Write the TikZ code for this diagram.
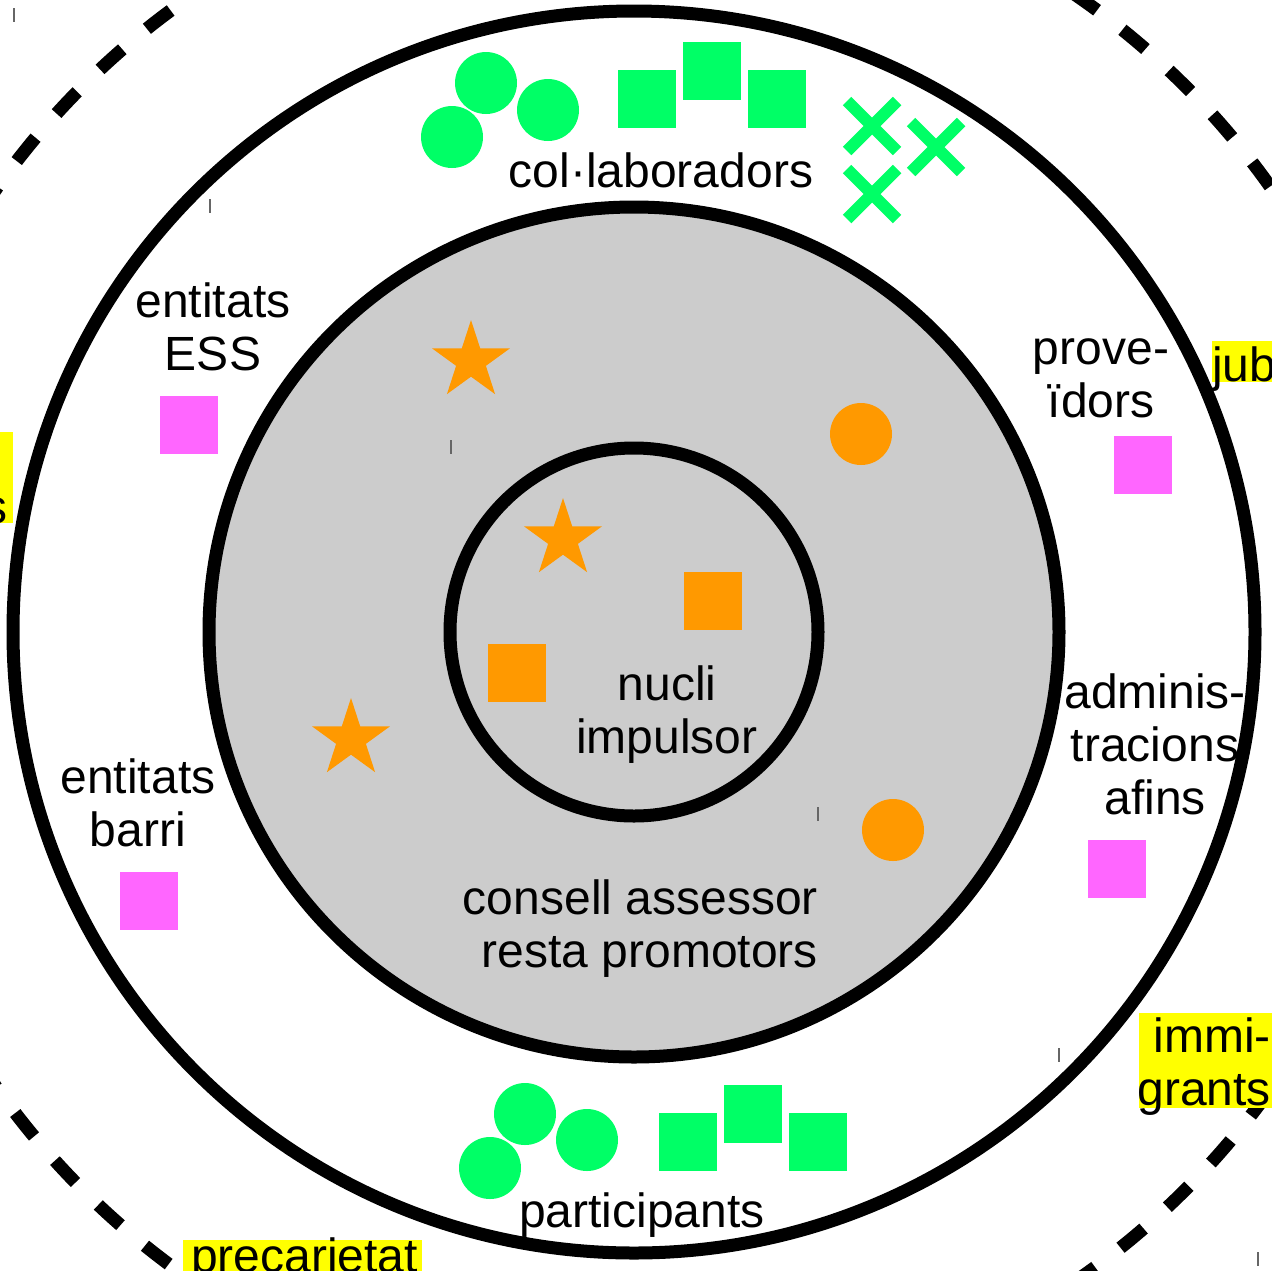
\documentclass[tikz,border=0pt]{standalone}
\usepackage{fontspec}
\setmainfont{Liberation Sans}
\usetikzlibrary{shapes.geometric}
\definecolor{ringgray}{RGB}{204,204,204}
\definecolor{mkgreen}{RGB}{0,255,102}
\definecolor{mkorange}{RGB}{255,153,0}
\definecolor{mkpink}{RGB}{255,102,255}
\definecolor{mkyellow}{RGB}{255,255,0}
\definecolor{tickgray}{RGB}{102,102,102}

\begin{document}
\begin{tikzpicture}[x=1pt,y=-1pt,
  ring/.style={line width=13pt},
  lbl/.style={font=\fontsize{48}{53}\selectfont, inner sep=0pt, align=center},
  blob/.style={circle, fill=#1, minimum size=62pt, inner sep=0pt},
  tile/.style={rectangle, fill=#1, minimum size=58pt, inner sep=0pt},
  starmark/.style={star, star points=5, star point ratio=2.618, fill=mkorange, minimum size=82pt, inner sep=0pt},
  xstroke/.style={draw=mkgreen, line width=12pt},
  cornertick/.style={draw=tickgray, line width=1.5pt}]
\useasboundingbox (0,0) rectangle (1272,1270);
\fill[white] (0,0) rectangle (1272,1270);

% rings
\coordinate (ctr) at (634,632);
\coordinate (far) at (634,638);
\draw[ring, dash pattern=on 30pt off 32pt, dash phase=12pt] (far) circle[radius=780];
\draw[ring] (ctr) circle[radius=621];
\draw[ring, fill=ringgray] (ctr) circle[radius=425];
\draw[ring] (ctr) circle[radius=184];

% little corner marks
\foreach \cx/\cy in {14/15, 210/206, 451/447, 818/814, 1059/1055, 1258/1259}
  \draw[cornertick] (\cx,\cy-7) -- (\cx,\cy+7);

% col.laboradors
\node[blob=mkgreen] (c1) at (486,83) {};
\node[blob=mkgreen] (c2) at (548,110) {};
\node[blob=mkgreen] (c3) at (452,137) {};
\node[tile=mkgreen] (s1) at (647,99) {};
\node[tile=mkgreen] (s2) at (712,71) {};
\node[tile=mkgreen] (s3) at (777,99) {};
\coordinate (x1) at (872,126);
\coordinate (x2) at (936,147);
\coordinate (x3) at (872,194);
\foreach \xm in {x1,x2,x3}
  \draw[xstroke] (\xm) ++(-25,-25) -- ++(50,50) (\xm) ++(-25,25) -- ++(50,-50);
\node[lbl, anchor=base] (colab) at (661,187) {col·laboradors};

% participants
\node[blob=mkgreen] (p1) at (525,1114) {};
\node[blob=mkgreen] (p2) at (587,1140) {};
\node[blob=mkgreen] (p3) at (490,1168) {};
\node[tile=mkgreen] (q1) at (688,1142) {};
\node[tile=mkgreen] (q2) at (753,1114) {};
\node[tile=mkgreen] (q3) at (818,1142) {};
\node[lbl, anchor=base] (partic) at (642,1227) {participants};

% outer ring groups
\node[lbl, anchor=base] (ess) at (213,370) {entitats\\ESS};
\node[tile=mkpink] (essbox) at (189,425) {};
\node[lbl, anchor=base] (barri) at (138,846) {entitats\\barri};
\node[tile=mkpink] (barribox) at (149,901) {};
\node[lbl, anchor=base] (prov) at (1101,417) {prove-\\ïdors};
\node[tile=mkpink] (provbox) at (1143,465) {};
\node[lbl, anchor=base] (admin) at (1155,814) {adminis-\\tracions\\afins};
\node[tile=mkpink] (adminbox) at (1117,869) {};

% grey ring and core
\node[starmark] (st1) at (471,361) {};
\node[starmark] (st2) at (563,539) {};
\node[starmark] (st3) at (351,739) {};
\node[blob=mkorange] (o1) at (861,434) {};
\node[blob=mkorange] (o2) at (893,830) {};
\node[tile=mkorange] (t1) at (713,601) {};
\node[tile=mkorange] (t2) at (517,673) {};
\node[lbl, anchor=base] (nucli) at (667,753) {nucli\\impulsor};
\node[lbl, align=right, anchor=base east] (consell) at (818,967) {consell assessor\\resta promotors};

% yellow tags at the edge
\fill[mkyellow] (1212,341) rectangle (1280,382);
\node[lbl, anchor=base west] (jub) at (1212,381) {jub};
\fill[mkyellow] (-10,432) rectangle (13,523);
\node[lbl, anchor=base east] (ss) at (8,523) {s};
\fill[mkyellow] (1139,1013) rectangle (1280,1108);
\node[lbl, align=right, anchor=base east] (immi) at (1271,1105) {immi-\\grants};
\fill[mkyellow] (183,1240) rectangle (422,1280);
\node[lbl, anchor=base west] (prec) at (191,1272) {precarietat};
\end{tikzpicture}
\end{document}
